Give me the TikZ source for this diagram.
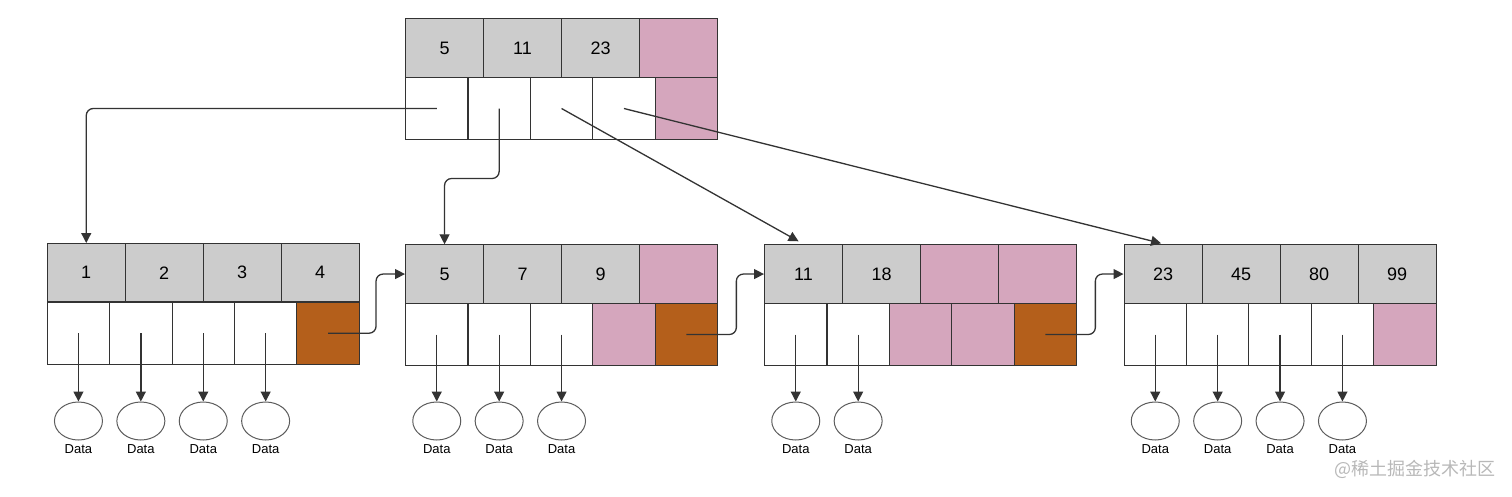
\documentclass[tikz,border=0pt]{standalone}
\usepackage{fontspec}
\setmainfont{Liberation Sans}
\newfontfamily\cjk{Noto Sans CJK SC}
\usetikzlibrary{arrows.meta,calc,shapes.geometric}
\definecolor{keygray}{HTML}{CCCCCC}
\definecolor{freepink}{HTML}{D5A6BD}
\definecolor{linkbrown}{HTML}{B45F1B}
\definecolor{edgec}{HTML}{333333}
\definecolor{wmgray}{HTML}{B8B8B8}
\begin{document}
\begin{tikzpicture}[x=1pt,y=-1pt,
  cell/.style={draw=edgec,line width=1.1pt,inner sep=0pt,anchor=north west,font=\fontsize{18}{20}\selectfont},
  keycell/.style={cell,fill=keygray,minimum width=78pt,minimum height=58.4pt},
  ptrcell/.style={cell,fill=white,minimum width=62.4pt,minimum height=62.5pt},
  dataell/.style={ellipse,draw=edgec!80,line width=1pt,minimum width=48pt,minimum height=38pt,inner sep=0pt},
  datalabel/.style={inner sep=0pt,font=\fontsize{13}{14}\selectfont},
  arr/.style={draw=edgec,line width=1.3pt,-{Triangle[length=10pt,width=10pt]}},
  link/.style={arr,rounded corners=7pt}
]
\useasboundingbox (0,0) rectangle (1512,496);
\coordinate (dataline) at (0,421);

% root
\foreach \t [count=\j] in {5,11,23} \node[keycell] (r-k\j) at ({405+(\j-1)*78},18.3) {\t};
\node[keycell,fill=freepink] (r-k4) at (639,18.3) {};
\foreach \j in {1,...,4} \node[ptrcell] (r-p\j) at ({405+(\j-1)*62.4},76.7) {};
\node[ptrcell,fill=freepink] (r-p5) at (654.6,76.7) {};

% leaf 1
\foreach \t [count=\j] in {1,2,3,4} \node[keycell] (L1-k\j) at ({46.7+(\j-1)*78},243) {\t};
\foreach \j in {1,...,4} \node[ptrcell] (L1-p\j) at ({46.7+(\j-1)*62.4},301.4) {};
\node[ptrcell,fill=linkbrown] (L1-p5) at (296.3,301.4) {};

% leaf 2
\foreach \t [count=\j] in {5,7,9} \node[keycell] (L2-k\j) at ({405+(\j-1)*78},244.3) {\t};
\node[keycell,fill=freepink] (L2-k4) at (639,244.3) {};
\foreach \j in {1,2,3} \node[ptrcell] (L2-p\j) at ({405+(\j-1)*62.4},302.7) {};
\node[ptrcell,fill=freepink] (L2-p4) at (592.2,302.7) {};
\node[ptrcell,fill=linkbrown] (L2-p5) at (654.6,302.7) {};

% leaf 3
\foreach \t [count=\j] in {11,18} \node[keycell] (L3-k\j) at ({764+(\j-1)*78},244.3) {\t};
\node[keycell,fill=freepink] (L3-k3) at (920,244.3) {};
\node[keycell,fill=freepink] (L3-k4) at (998,244.3) {};
\foreach \j in {1,2} \node[ptrcell] (L3-p\j) at ({764+(\j-1)*62.4},302.7) {};
\node[ptrcell,fill=freepink] (L3-p3) at (888.8,302.7) {};
\node[ptrcell,fill=freepink] (L3-p4) at (951.2,302.7) {};
\node[ptrcell,fill=linkbrown] (L3-p5) at (1013.6,302.7) {};

% leaf 4
\foreach \t [count=\j] in {23,45,80,99} \node[keycell] (L4-k\j) at ({1123.5+(\j-1)*78},244.3) {\t};
\foreach \j in {1,...,4} \node[ptrcell] (L4-p\j) at ({1123.5+(\j-1)*62.4},302.7) {};
\node[ptrcell,fill=freepink] (L4-p5) at (1373.1,302.7) {};

% data records
\foreach \L/\n in {1/4,2/3,3/2,4/4} {
  \foreach \j in {1,...,\n} {
    \node[dataell] (d\L-\j) at (L\L-p\j |- dataline) {};
    \node[datalabel] (t\L-\j) at ($(d\L-\j.center)+(0,28)$) {Data};
    \draw[arr] (L\L-p\j.center) -- (d\L-\j.north);
  }
}

% root to leaves
\draw[link] (r-p1.center) -| (L1-k1.north);
\draw[link] (r-p2.center) -- ++(0,70) -| (L2-k1.north);
\draw[arr] (r-p3.center) -- ($(L3-k1.north)+(-5,-3)$);
\draw[arr] (r-p4.center) -- ($(L4-k1.north)+(-2,-1)$);

% leaf links
\draw[link] (L1-p5.center) -- ++(48,0) |- (L2-k1.west);
\draw[link] (L2-p5.center) -- ++(50,0) |- (L3-k1.west);
\draw[link] (L3-p5.center) -- ++(50,0) |- (L4-k1.west);

% watermark
\node[font=\cjk\fontsize{18}{18}\selectfont,text=wmgray,anchor=east,inner sep=0pt] (wm) at (1496,469) {@稀土掘金技术社区};
\end{tikzpicture}
\end{document}
